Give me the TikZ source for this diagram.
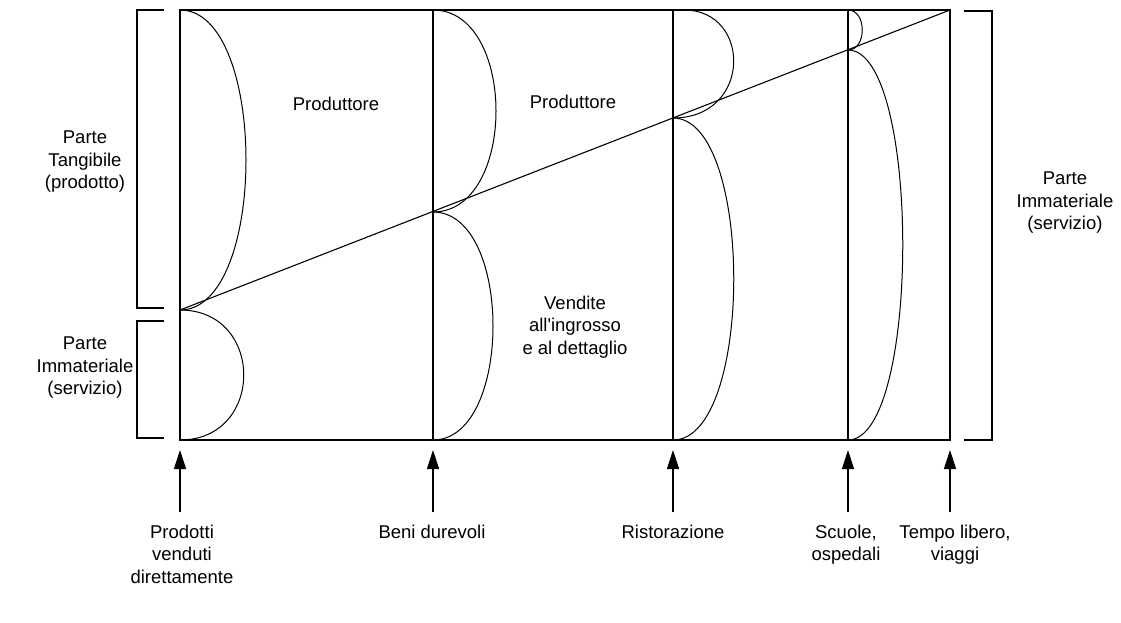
\documentclass[tikz,border=0pt]{standalone}
\usepackage{fontspec}
\setmainfont{Liberation Sans}
\usepackage{tikz}
\usetikzlibrary{arrows.meta, positioning}

\begin{document}
\begin{tikzpicture}[x=1pt, y=-1pt, line width=1.4pt, every node/.style={align=center, inner sep=0pt, font=\fontsize{18.5}{22.5}\selectfont}, up/.style={-{Triangle[length=19pt, width=12pt]}, line width=1.1pt}]
        \useasboundingbox (0,0) rectangle (1121,623);
        % frame and sectors
        \draw (180,10) rectangle (950,440);
        \draw (433,10) -- (433,440);
        \draw (673,10) -- (673,440);
        \draw (848,10) -- (848,440);
        \draw[line width=1.1pt] (180,310) -- (950,10);
        % curves
        \draw[line width=1pt] (180,10) .. controls (268,10) and (268,310) .. (180,310);
        \draw[line width=1pt] (180,310) .. controls (265,310) and (265,440) .. (180,440);
        \draw[line width=1pt] (433,10) .. controls (517,10) and (517,212) .. (433,212);
        \draw[line width=1pt] (433,212) .. controls (513,212) and (513,440) .. (433,440);
        \draw[line width=1pt] (684,10) .. controls (752,10) and (752,118) .. (673,118);
        \draw[line width=1pt] (673,118) .. controls (754,118) and (754,440) .. (673,440);
        \draw[line width=1pt] (848,10) .. controls (867,10) and (867,50) .. (848,50);
        \draw[line width=1pt] (848,50) .. controls (921,50) and (921,440) .. (848,440);
        % brackets
        \draw[line width=1.1pt] (164,10) -- (137,10) -- (137,308) -- (164,308);
        \draw[line width=1.1pt] (164,321) -- (137,321) -- (137,438) -- (164,438);
        \draw[line width=1.1pt] (964,11) -- (992,11) -- (992,440) -- (964,440);
        % labels
        \node (tangible) at (85,162) {Parte\\Tangibile\\(prodotto)};
        \node (immleft) at (85,368) {Parte\\Immateriale\\(servizio)};
        \node (immright) at (1065,203) {Parte\\Immateriale\\(servizio)};
        \node (prod1) at (336,104) {Produttore};
        \node (prod2) at (573,102) {Produttore};
        \node (vendite) at (575,327) {Vendite\\all\textquotesingle ingrosso\\e al dettaglio};
        % sectors below
        \coordinate (b1) at (180,450);
        \coordinate (b2) at (433,450);
        \coordinate (b3) at (673,450);
        \coordinate (b4) at (848,450);
        \coordinate (b5) at (950,450);
        \node (direct) [anchor=north] at (182,524) {Prodotti\\venduti\\direttamente};
        \node (durevoli) [anchor=north] at (432,524) {Beni durevoli};
        \node (ristor) [anchor=north] at (673,524) {Ristorazione};
        \node (scuole) [anchor=north] at (846,524) {Scuole,\\ospedali};
        \node (tempo) [anchor=north] at (955,524) {Tempo libero,\\viaggi};
        \draw[up] (direct.north -| b1) ++(0,-12) -- (b1);
        \draw[up] (durevoli.north -| b2) ++(0,-12) -- (b2);
        \draw[up] (ristor.north -| b3) ++(0,-12) -- (b3);
        \draw[up] (scuole.north -| b4) ++(0,-12) -- (b4);
        \draw[up] (tempo.north -| b5) ++(0,-12) -- (b5);
    \end{tikzpicture}
\end{document}
